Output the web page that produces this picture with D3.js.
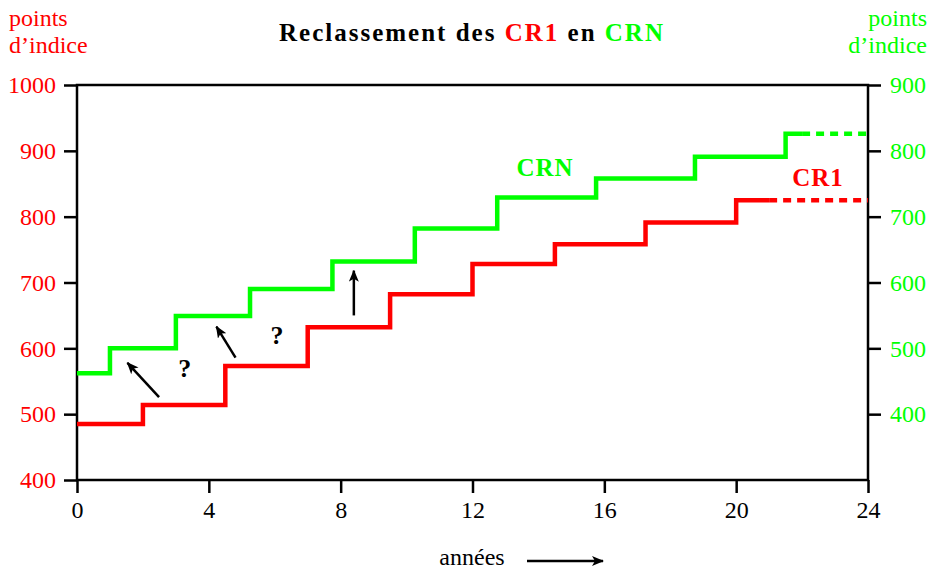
<!DOCTYPE html>
<html>
<head>
<meta charset="utf-8">
<script src="https://cdn.jsdelivr.net/npm/d3@7"></script>
<style>
  body { margin: 0; background: #fff; }
  svg, svg text { font-family: "Liberation Serif", "DejaVu Serif", serif; }
</style>
</head>
<body>
<div id="chart"></div>
<script>
// step data
var cr1Years  = [0, 2, 4.5, 7, 9.5, 12, 14.5, 17.25, 20];
var cr1Values = [485, 514, 573, 632, 682, 728, 758, 791, 825];   // left scale
var cr1SolidEnd = 21;
var crnYears  = [0, 1, 3, 5.25, 7.75, 10.25, 12.75, 15.75, 18.75, 21.5];
var crnValues = [462, 500, 549, 590, 632, 682, 729, 758, 791, 826]; // right scale
var crnSolidEnd = 22;
var xTicks = [0, 4, 8, 12, 16, 20, 24];
var leftTicks = [400, 500, 600, 700, 800, 900, 1000];
var rightTicks = [400, 500, 600, 700, 800, 900];

// annotations (years, left-scale points)
var arrows = [
  {x1: 2.49, y1: 526, x2: 1.53, y2: 578},
  {x1: 4.81, y1: 586, x2: 4.23, y2: 633},
  {x1: 8.4,  y1: 650, x2: 8.4,  y2: 718}
];
var questions = [{x: 3.27, y: 557}, {x: 6.07, y: 607}];

var width = 931, height = 570;
var margin = {top: 85, right: 63, bottom: 90, left: 77};
var RED = "#ff0000", GREEN = "#00ff00";
var FONT = "Liberation Serif, DejaVu Serif, serif";

var svg = d3.select("#chart").append("svg")
  .attr("width", width)
  .attr("height", height)
  .attr("font-family", FONT);

svg.append("defs").append("marker")
  .attr("id", "head")
  .attr("viewBox", "0 0 12 10")
  .attr("refX", 11).attr("refY", 5)
  .attr("markerWidth", 12).attr("markerHeight", 10)
  .attr("markerUnits", "userSpaceOnUse")
  .attr("orient", "auto")
  .append("path")
  .attr("d", "M0,0 L12,5 L0,10 L3,5 Z")
  .attr("fill", "#000");

var x = d3.scaleLinear().domain([0, 24]).range([margin.left, width - margin.right]);
var yL = d3.scaleLinear().domain([400, 1000]).range([height - margin.bottom, margin.top]);
var yR = d3.scaleLinear().domain([300, 900]).range([height - margin.bottom, margin.top]);

// frame
svg.append("rect")
  .attr("x", x(0)).attr("y", yL(1000))
  .attr("width", x(24) - x(0)).attr("height", yL(400) - yL(1000))
  .attr("fill", "none").attr("stroke", "#000").attr("stroke-width", 2.5);

// axes
var fmt = d3.format("d");
var gx = svg.append("g")
  .attr("transform", "translate(0," + yL(400) + ")")
  .call(d3.axisBottom(x).tickValues(xTicks).tickFormat(fmt).tickSize(13).tickPadding(8));
var gl = svg.append("g")
  .attr("transform", "translate(" + x(0) + ",0)")
  .call(d3.axisLeft(yL).tickValues(leftTicks).tickFormat(fmt).tickSize(13).tickPadding(8));
var gr = svg.append("g")
  .attr("transform", "translate(" + x(24) + ",0)")
  .call(d3.axisRight(yR).tickValues(rightTicks).tickFormat(fmt).tickSize(13).tickPadding(9));

[gx, gl, gr].forEach(function (g) {
  g.attr("font-family", FONT).attr("font-size", 24);
  g.select(".domain").remove();
  g.selectAll(".tick line").attr("stroke", "#000").attr("stroke-width", 2.5);
});
gx.selectAll(".tick text").attr("fill", "#000").attr("dy", "0.71em");
gl.selectAll(".tick text").attr("fill", RED);
gr.selectAll(".tick text").attr("fill", GREEN);

// step lines
var line = d3.line().curve(d3.curveStepAfter);

function stepPath(years, values, end, scale) {
  var pts = years.map(function (yr, i) { return [x(yr), scale(values[i])]; });
  pts.push([x(end), scale(values[values.length - 1])]);
  return line(pts);
}

svg.append("path")
  .attr("d", stepPath(cr1Years, cr1Values, cr1SolidEnd, yL))
  .attr("fill", "none").attr("stroke", RED).attr("stroke-width", 4.5);
svg.append("path")
  .attr("d", line([[x(cr1SolidEnd), yL(cr1Values[cr1Values.length - 1])], [x(24), yL(cr1Values[cr1Values.length - 1])]]))
  .attr("fill", "none").attr("stroke", RED).attr("stroke-width", 4.5)
  .attr("stroke-dasharray", "8,6");

svg.append("path")
  .attr("d", stepPath(crnYears, crnValues, crnSolidEnd, yR))
  .attr("fill", "none").attr("stroke", GREEN).attr("stroke-width", 4.5);
svg.append("path")
  .attr("d", line([[x(crnSolidEnd), yR(crnValues[crnValues.length - 1])], [x(24), yR(crnValues[crnValues.length - 1])]]))
  .attr("fill", "none").attr("stroke", GREEN).attr("stroke-width", 4.5)
  .attr("stroke-dasharray", "8,6");

// arrows and question marks
svg.selectAll(".arr").data(arrows).enter().append("line")
  .attr("x1", function (d) { return x(d.x1); })
  .attr("y1", function (d) { return yL(d.y1); })
  .attr("x2", function (d) { return x(d.x2); })
  .attr("y2", function (d) { return yL(d.y2); })
  .attr("stroke", "#000").attr("stroke-width", 2.5)
  .attr("marker-end", "url(#head)");

svg.selectAll(".q").data(questions).enter().append("text")
  .attr("x", function (d) { return x(d.x); })
  .attr("y", function (d) { return yL(d.y); })
  .attr("text-anchor", "middle")
  .attr("font-size", 26).attr("font-weight", "bold")
  .text("?");

// series labels
svg.append("text").attr("x", 545).attr("y", 176).attr("text-anchor", "middle")
  .attr("fill", GREEN).attr("font-size", 25).attr("font-weight", "bold")
  .attr("letter-spacing", 1).text("CRN");
svg.append("text").attr("x", 818).attr("y", 186).attr("text-anchor", "middle")
  .attr("fill", RED).attr("font-size", 25).attr("font-weight", "bold")
  .attr("letter-spacing", 1).text("CR1");

// title
var title = svg.append("text").attr("x", 472).attr("y", 41).attr("text-anchor", "middle")
  .attr("font-size", 25).attr("font-weight", "bold");
title.append("tspan").text("Reclassement des ");
title.append("tspan").attr("fill", RED).text("CR1");
title.append("tspan").text(" en ");
title.append("tspan").attr("fill", GREEN).text("CRN");
var tw = title.node().getComputedTextLength();
title.attr("letter-spacing", Math.max(0, Math.min(2, (401 - tw) / 27)));

// axis titles
var lt = svg.append("text").attr("fill", RED).attr("font-size", 24);
lt.append("tspan").attr("x", 9).attr("y", 26).text("points");
lt.append("tspan").attr("x", 9).attr("y", 53).text("d\u2019indice");
var rt = svg.append("text").attr("fill", GREEN).attr("text-anchor", "end").attr("font-size", 24);
rt.append("tspan").attr("x", 927).attr("y", 26).text("points");
rt.append("tspan").attr("x", 927).attr("y", 53).text("d\u2019indice");

svg.append("text").attr("x", 472).attr("y", 565).attr("text-anchor", "middle")
  .attr("font-size", 24).text("années");
svg.append("line")
  .attr("x1", 527).attr("y1", 561).attr("x2", 603).attr("y2", 561)
  .attr("stroke", "#000").attr("stroke-width", 2.5)
  .attr("marker-end", "url(#head)");
</script>
</body>
</html>
